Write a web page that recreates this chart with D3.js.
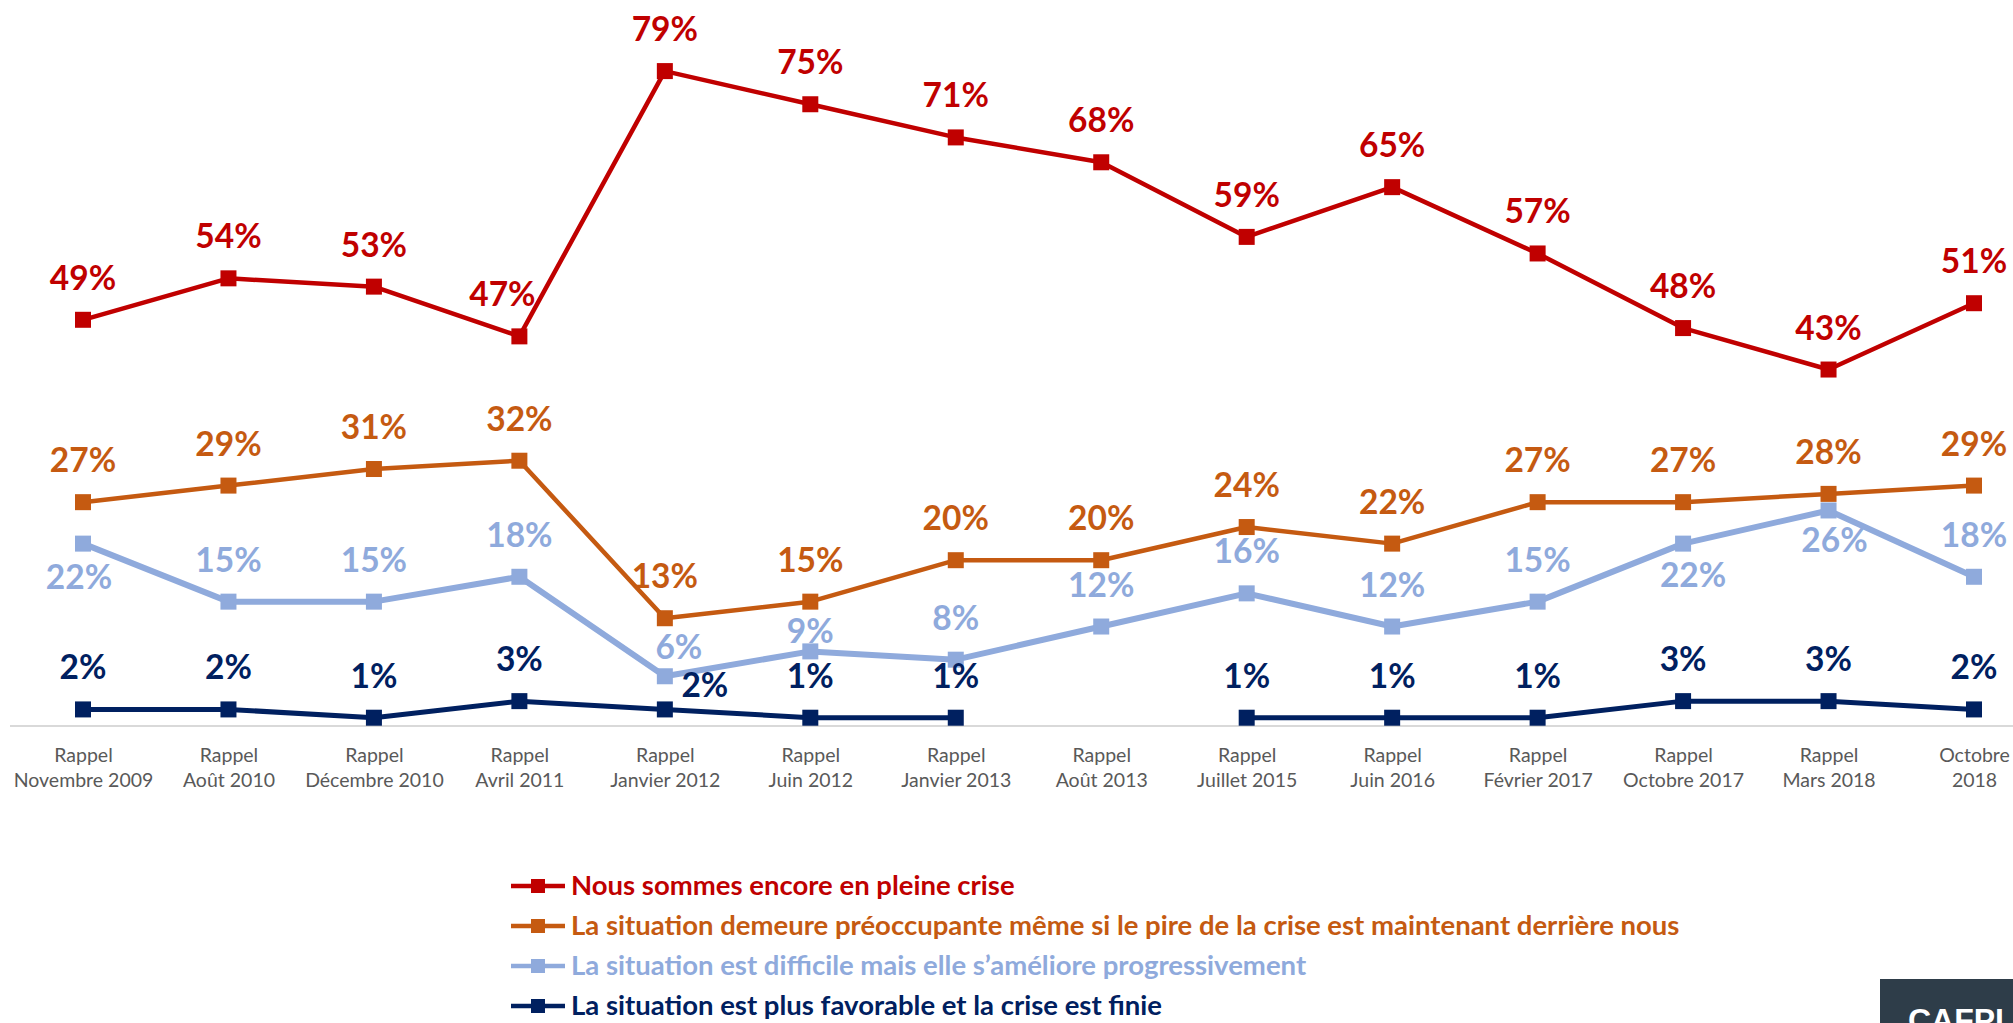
<!DOCTYPE html>
<meta charset="utf-8" />
<script src="https://d3js.org/d3.v7.min.js"></script>
<style>
    body { margin: 0; background: #fff; }
    svg { display: block; }
</style>
<div id="my_dataviz"></div>

<script>
    // categories (x axis, two lines each)
    const periods = [
        ['Rappel', 'Novembre 2009'],
        ['Rappel', 'Août 2010'],
        ['Rappel', 'Décembre 2010'],
        ['Rappel', 'Avril 2011'],
        ['Rappel', 'Janvier 2012'],
        ['Rappel', 'Juin 2012'],
        ['Rappel', 'Janvier 2013'],
        ['Rappel', 'Août 2013'],
        ['Rappel', 'Juillet 2015'],
        ['Rappel', 'Juin 2016'],
        ['Rappel', 'Février 2017'],
        ['Rappel', 'Octobre 2017'],
        ['Rappel', 'Mars 2018'],
        ['Octobre', '2018']
    ]

    // series values (%)
    const pleineCrise = [49, 54, 53, 47, 79, 75, 71, 68, 59, 65, 57, 48, 43, 51]
    const preoccupante = [27, 29, 31, 32, 13, 15, 20, 20, 24, 22, 27, 27, 28, 29]
    const difficile = [22, 15, 15, 18, 6, 9, 8, 12, 16, 12, 15, 22, 26, 18]
    const favorable = [2, 2, 1, 3, 2, 1, 1, null, 1, 1, 1, 3, 3, 2]

    const seriesNames = [
        'Nous sommes encore en pleine crise',
        'La situation demeure préoccupante même si le pire de la crise est maintenant derrière nous',
        'La situation est difficile mais elle s’améliore progressivement',
        'La situation est plus favorable et la crise est finie'
    ]

    const width = 2013,
        height = 1023

    const svg = d3
        .select('#my_dataviz')
        .append('svg')
        .attr('width', width)
        .attr('height', height)

    const series = [
        { name: seriesNames[0], values: pleineCrise, color: '#C00000', sw: 4.5 },
        { name: seriesNames[1], values: preoccupante, color: '#C55A11', sw: 4.5 },
        { name: seriesNames[2], values: difficile, color: '#8FAADC', sw: 6 },
        { name: seriesNames[3], values: favorable, color: '#002060', sw: 5 }
    ]

    // label tweaks: [dx, dy of baseline from point]
    const labelShift = {
        '0-3': [-17, -30],
        '2-0': [-4, 45],
        '2-4': [14, -17],
        '2-5': [0, -8],
        '2-11': [10, 43],
        '2-12': [6, 42],
        '3-4': [40, -12]
    }

    const x = d3
        .scalePoint()
        .domain(d3.range(periods.length))
        .range([83, 1974])

    const y = d3.scaleLinear().domain([0, 80]).range([726, 62.8])

    // baseline
    svg.append('line')
        .attr('x1', 10)
        .attr('x2', width)
        .attr('y1', y(0))
        .attr('y2', y(0))
        .attr('stroke', '#D9D9D9')
        .attr('stroke-width', 2)

    // x axis labels
    const xAxis = svg
        .append('g')
        .attr('transform', `translate(0,${y(0)})`)
        .call(d3.axisBottom(x).tickSize(0).tickFormat(''))
    xAxis.select('.domain').remove()
    xAxis
        .selectAll('.tick')
        .append('text')
        .attr('fill', '#595959')
        .attr('font-family', 'Lato')
        .attr('font-size', '19.5px')
        .attr('text-anchor', 'middle')
        .selectAll('tspan')
        .data((i) => periods[i])
        .join('tspan')
        .attr('x', 0)
        .attr('y', (d, j) => 36 + j * 25)
        .text((d) => d)

    // lines
    series.forEach((s, si) => {
        const pts = s.values.map((v, i) => ({ i, v }))
        svg.append('path')
            .datum(pts)
            .attr('fill', 'none')
            .attr('stroke', s.color)
            .attr('stroke-width', s.sw)
            .attr('stroke-linejoin', 'round')
            .attr(
                'd',
                d3
                    .line()
                    .defined((d) => d.v != null)
                    .x((d) => x(d.i))
                    .y((d) => y(d.v))
            )

        const g = svg
            .selectAll('.pt' + si)
            .data(pts.filter((d) => d.v != null))
            .join('g')
            .attr('class', 'pt' + si)

        g.append('rect')
            .attr('x', (d) => x(d.i) - 8)
            .attr('y', (d) => y(d.v) - 8)
            .attr('width', 16)
            .attr('height', 16)
            .attr('fill', s.color)

        g.append('text')
            .attr('x', (d) => x(d.i) + (labelShift[si + '-' + d.i] || [0, -30])[0])
            .attr('y', (d) => y(d.v) + (labelShift[si + '-' + d.i] || [0, -30])[1])
            .attr('text-anchor', 'middle')
            .attr('font-family', 'Lato')
            .attr('font-weight', 'bold')
            .attr('font-size', '33.5px')
            .attr('fill', s.color)
            .text((d) => d.v + '%')
    })

    // legend
    const legend = svg
        .selectAll('.legend')
        .data(series)
        .join('g')
        .attr('class', 'legend')
        .attr('transform', (d, i) => `translate(511,${886 + i * 40})`)

    legend
        .append('line')
        .attr('x1', 0)
        .attr('x2', 54)
        .attr('stroke', (d) => d.color)
        .attr('stroke-width', 4.5)
    legend
        .append('rect')
        .attr('x', 20)
        .attr('y', -7)
        .attr('width', 14)
        .attr('height', 14)
        .attr('fill', (d) => d.color)
    legend
        .append('text')
        .attr('x', 60)
        .attr('y', 9)
        .attr('font-family', 'Lato')
        .attr('font-weight', 'bold')
        .attr('font-size', '27.5px')
        .attr('fill', (d) => d.color)
        .text((d) => d.name)

    // logo corner
    svg.append('rect')
        .attr('x', 1880)
        .attr('y', 979)
        .attr('width', 133)
        .attr('height', 44)
        .attr('fill', '#2E3D49')
    svg.append('text')
        .attr('x', 1908)
        .attr('y', 1031)
        .attr('font-family', 'Liberation Sans')
        .attr('font-weight', 'bold')
        .attr('font-size', '32px')
        .attr('fill', '#fff')
        .text('CAFPI')
</script>
